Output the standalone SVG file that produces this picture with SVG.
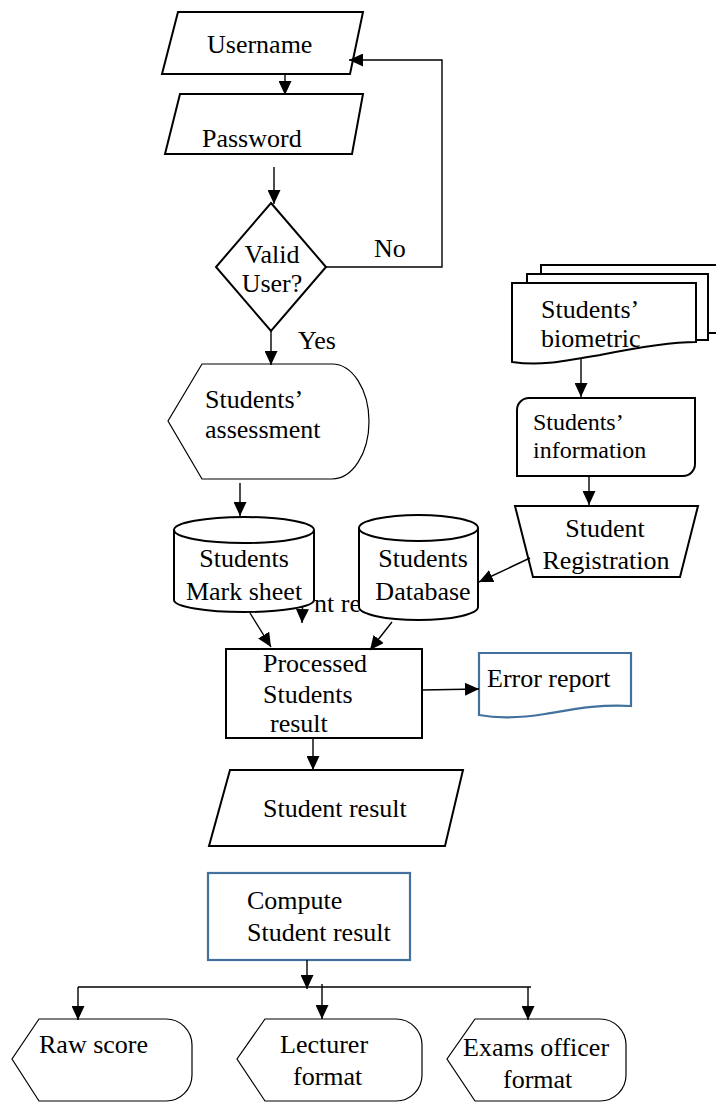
<svg xmlns="http://www.w3.org/2000/svg" width="716" height="1102" viewBox="0 0 716 1102">
<style>
.n{fill:#fff;stroke:#000;stroke-width:2;stroke-linejoin:miter}
.thin{stroke-width:1.2}
.blue{stroke:#41719C;stroke-width:2.2}
.t{font-family:"Liberation Serif","Times New Roman",serif;font-size:26px;fill:#000}
.s{font-size:24px}
.m{text-anchor:middle}
.c{fill:none;stroke:#000;stroke-width:1.4}
</style>
<defs>
<marker id="ah" markerWidth="14" markerHeight="13" refX="14" refY="6.5" orient="auto" markerUnits="userSpaceOnUse"><path d="M0,0 L14,6.5 L0,13 z" fill="#000"/></marker>
</defs>
<rect width="716" height="1102" fill="#fff"/>

<g id="username"><polygon class="n" points="178,12 363,12 350,74 162,74"/><text class="t" x="207" y="53">Username</text></g>
<g id="password"><polygon class="n" points="180,94 363,94 352,154 165,154"/><text class="t" x="202" y="147">Password</text></g>
<g id="valid"><polygon class="n" points="271,203 326,267 271,331 216,267"/><text class="t m" x="272" y="263">Valid</text><text class="t m" x="272" y="292">User?</text></g>
<g id="assessment"><path class="n thin" d="M202,364 H332 A37,57.5 0 0 1 332,479 H202 L168,421 Z"/><text class="t" x="205" y="408">Students’</text><text class="t" x="205" y="438">assessment</text></g>
<g id="marksheet"><path class="n" d="M174,530 A70,13 0 0 1 314,530 V600 A70,12 0 0 1 174,600 Z"/><path class="n" fill="none" d="M174,530 A70,13 0 0 0 314,530"/><text class="t m" x="244" y="567">Students</text><text class="t m" x="244" y="600">Mark sheet</text></g>
<g id="partial-label"><text class="t" x="314" y="612">nt re</text></g>
<g id="database"><path class="n" d="M359,528 A59.5,13 0 0 1 478,528 V607 A59.5,13 0 0 1 359,607 Z"/><path class="n" fill="none" d="M359,528 A59.5,13 0 0 0 478,528"/><text class="t m" x="423" y="567">Students</text><text class="t m" x="423" y="600">Database</text></g>
<g id="biometric">
<path class="n" d="M541,274 V265 H730 V333 H708"/>
<path class="n" d="M527,283 V274 H708 V340 H696"/>
<path class="n" d="M512,283 H696 V342 C670,342 640,347 600,355 C560,362 540,366 512,362 Z"/>
<text class="t" x="541" y="318">Students’</text><text class="t" x="541" y="347">biometric</text></g>
<g id="information"><path class="n" d="M529,398 H695 V464 A12,12 0 0 1 683,476 H517 V410 A12,12 0 0 1 529,398 Z"/><text class="t s" x="533" y="430">Students’</text><text class="t s" x="533" y="458">information</text></g>
<g id="registration"><polygon class="n" points="515,506 698,506 680,577 533,577"/><text class="t m" x="605" y="537">Student</text><text class="t m" x="606" y="569">Registration</text></g>
<g id="processed"><rect class="n" x="226" y="649" width="196" height="89"/><text class="t" x="263" y="672">Processed</text><text class="t" x="263" y="703">Students</text><text class="t" x="270" y="732">result</text></g>
<g id="error"><path class="n blue" d="M479,653 H631 V706 C600,704 575,709 545,714 C520,718 500,719 479,715 Z"/><text class="t" x="487" y="687">Error report</text></g>
<g id="studentresult"><polygon class="n" points="230,770 463,770 445,846 209,846"/><text class="t" x="263" y="817">Student result</text></g>
<g id="compute"><rect class="n blue" x="208" y="873" width="202" height="87"/><text class="t" x="247" y="909">Compute</text><text class="t" x="247" y="941">Student result</text></g>
<g id="rawscore"><path class="n thin" d="M39,1019 H166 A26,26 0 0 1 192,1045 V1075 A26,26 0 0 1 166,1101 H39 L12,1059 Z"/><text class="t" x="39" y="1053">Raw score</text></g>
<g id="lecturer"><path class="n thin" d="M265,1019 H396 A26,26 0 0 1 422,1045 V1075 A26,26 0 0 1 396,1101 H265 L237,1059 Z"/><text class="t" x="280" y="1053">Lecturer</text><text class="t" x="293" y="1085">format</text></g>
<g id="examsofficer"><path class="n thin" d="M475,1019 H600 A26,26 0 0 1 626,1045 V1075 A26,26 0 0 1 600,1101 H475 L447,1059 Z"/><text class="t" x="463" y="1056">Exams officer</text><text class="t" x="503" y="1088">format</text></g>

<g id="connectors">
<path class="c" d="M285,74 V95" marker-end="url(#ah)"/>
<path class="c" d="M274,167 V204" marker-end="url(#ah)"/>
<path class="c" d="M326,267 H442 V60 H349" marker-end="url(#ah)"/>
<text class="t" x="374" y="257">No</text>
<path class="c" d="M271,331 V365" marker-end="url(#ah)"/>
<text class="t" x="298" y="349">Yes</text>
<path class="c" d="M240,483 V516" marker-end="url(#ah)"/>
<path class="c" d="M302.5,607 L302,623" marker-end="url(#ah)"/>
<path class="c" d="M581,358 V397" marker-end="url(#ah)"/>
<path class="c" d="M589,476 V505" marker-end="url(#ah)"/>
<path class="c" d="M530,558 L479,582" marker-end="url(#ah)"/>
<path class="c" d="M250,613 L271,647" marker-end="url(#ah)"/>
<path class="c" d="M392,622 L370,650" marker-end="url(#ah)"/>
<path class="c" d="M422,690 L479,689" marker-end="url(#ah)"/>
<path class="c" d="M313,738 V770" marker-end="url(#ah)"/>
<path class="c" d="M307,960 V989" marker-end="url(#ah)"/>
<path class="c" d="M78,987 H531"/>
<path class="c" d="M78,987 V1020" marker-end="url(#ah)"/>
<path class="c" d="M322,984 V1019" marker-end="url(#ah)"/>
<path class="c" d="M528,987 V1020" marker-end="url(#ah)"/>
</g>
</svg>
